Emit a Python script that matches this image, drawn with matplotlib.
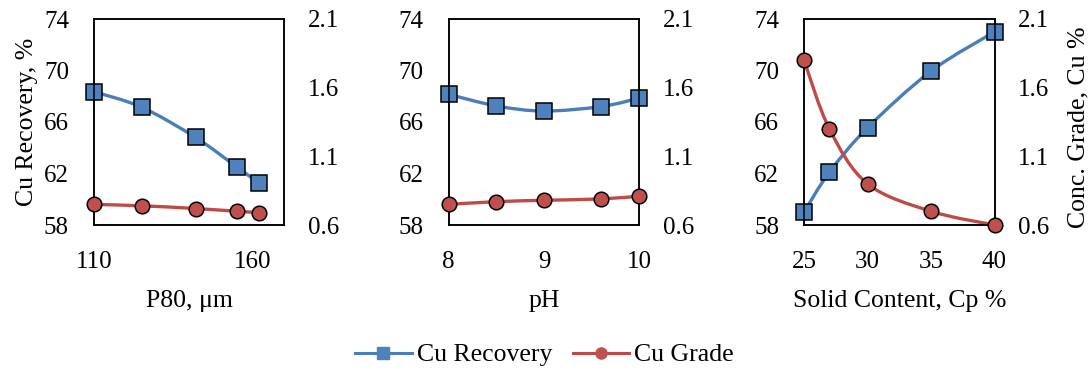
import matplotlib
matplotlib.use("Agg")
import matplotlib.pyplot as plt
from matplotlib.path import Path
from matplotlib.patches import PathPatch
from matplotlib.lines import Line2D

# ---- data ----
p80 = [110, 125, 142, 155, 162]
p80_recovery = [68.35, 67.15, 64.8, 62.5, 61.25]
p80_grade = [0.75, 0.74, 0.72, 0.70, 0.69]

ph = [8, 8.5, 9, 9.6, 10]
ph_recovery = [68.15, 67.25, 66.85, 67.2, 67.85]
ph_grade = [0.75, 0.77, 0.78, 0.79, 0.81]

solids = [25, 27, 30, 35, 40]
solids_recovery = [59.0, 62.1, 65.55, 69.95, 73.0]
solids_grade = [1.80, 1.30, 0.90, 0.70, 0.60]

xlabels = ["P80, \u03bcm", "pH", "Solid Content, Cp %"]
xlims = [(110, 170), (8, 10), (25, 40)]
xticks = [[110, 160], [8, 9, 10], [25, 30, 35, 40]]
rec_ticks = [58, 62, 66, 70, 74]
grade_ticks = [0.6, 1.1, 1.6, 2.1]

BLUE_LINE = "#4A7EBB"
BLUE_FILL = "#4F81BD"
RED_LINE = "#BE4B48"
RED_FILL = "#C0504D"
FONT = "Liberation Serif"
plt.rcParams["font.family"] = FONT

TICK_FS = 18
LABEL_FS = 18.5
LEGEND_FS = 18.5


def smooth_path(xs, ys):
    """Excel-like smoothed line: cubic Bezier segments through the data points."""
    n = len(xs)
    verts = [(xs[0], ys[0])]
    codes = [Path.MOVETO]
    for i in range(n - 1):
        x0, y0 = (xs[i - 1], ys[i - 1]) if i > 0 else (xs[i], ys[i])
        x1, y1 = xs[i], ys[i]
        x2, y2 = xs[i + 1], ys[i + 1]
        x3, y3 = (xs[i + 2], ys[i + 2]) if i + 2 < n else (xs[i + 1], ys[i + 1])
        c1 = (x1 + (x2 - x0) / 6.0, y1 + (y2 - y0) / 6.0)
        c2 = (x2 - (x3 - x1) / 6.0, y2 - (y3 - y1) / 6.0)
        verts += [c1, c2, (x2, y2)]
        codes += [Path.CURVE4] * 3
    return Path(verts, codes)


fig = plt.figure(figsize=(10.89, 3.70), dpi=100)

lefts = [94, 448.7, 804]
W, H = 1089.0, 370.0
panels = [(p80, p80_recovery, p80_grade), (ph, ph_recovery, ph_grade),
          (solids, solids_recovery, solids_grade)]

for k, (xs, rec, gr) in enumerate(panels):
    ax = fig.add_axes([lefts[k] / W, (H - 225) / H, 190.5 / W, 206 / H])
    ax2 = ax.twinx()
    ax.set_xlim(*xlims[k])
    ax.set_ylim(58, 74)
    ax2.set_ylim(0.6, 2.1)
    ax.set_xticks(xticks[k])
    ax.set_xticklabels([str(t) for t in xticks[k]])
    ax.set_yticks(rec_ticks)
    ax2.set_yticks(grade_ticks)
    ax2.set_yticklabels([f"{t:.1f}" for t in grade_ticks])
    ax.tick_params(axis="y", length=0, pad=18, labelsize=TICK_FS)
    ax.tick_params(axis="x", length=0, pad=19, labelsize=TICK_FS)
    ax2.tick_params(axis="y", length=0, pad=17, labelsize=TICK_FS)
    for a in (ax, ax2):
        for s in a.spines.values():
            s.set_linewidth(1.1)
            s.set_color("black")

    ax.add_patch(PathPatch(smooth_path(xs, rec), facecolor="none", edgecolor=BLUE_LINE,
                           lw=2.4, transform=ax.transData, clip_on=False, zorder=2))
    ax.plot(xs, rec, ls="none", marker="s", ms=11, mfc=BLUE_FILL, mec="black",
            mew=1.1, clip_on=False, zorder=3)
    ax2.add_patch(PathPatch(smooth_path(xs, gr), facecolor="none", edgecolor=RED_LINE,
                            lw=2.4, transform=ax2.transData, clip_on=False, zorder=2))
    ax2.plot(xs, gr, ls="none", marker="o", ms=10.5, mfc=RED_FILL, mec="black",
             mew=1.1, clip_on=False, zorder=3)

    ax.set_xlabel(xlabels[k], fontsize=LABEL_FS, labelpad=12)
    if k == 0:
        ax.set_ylabel("Cu Recovery, %", fontsize=LABEL_FS, labelpad=4)
    if k == 2:
        ax2.set_ylabel("Conc. Grade, Cu %", fontsize=LABEL_FS, labelpad=13)
        ax2.yaxis.label.set_y(0.476)

handles = [
    Line2D([], [], color=BLUE_LINE, lw=2.2, marker="s", ms=8, mfc=BLUE_FILL, mec=BLUE_FILL),
    Line2D([], [], color=RED_LINE, lw=2.2, marker="o", ms=8, mfc=RED_FILL, mec=RED_FILL),
]
fig.legend(handles, ["Cu Recovery", "Cu Grade"], loc="center",
           bbox_to_anchor=(0.5, 1 - 355 / H), ncol=2, frameon=False, fontsize=LEGEND_FS,
           handlelength=2.2, handletextpad=0.2, columnspacing=0.8)

fig.savefig("out.png", dpi=100)
